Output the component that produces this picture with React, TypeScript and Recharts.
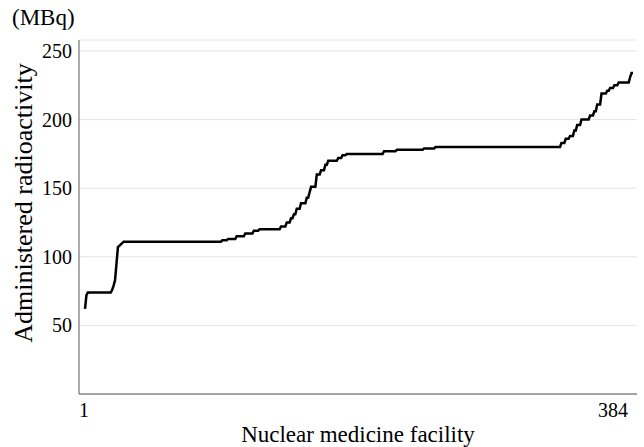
import { LineChart, Line, XAxis, YAxis, CartesianGrid, Label } from "recharts";

// 施設ごとの投与量（昇順）: 値と、その値が続く施設数
const levels = [
  62, 72, 74, 76, 79, 83, 95, 107, 108, 109, 110, 111, 112, 113, 115, 117,
  119, 120, 122, 125, 128, 131, 135, 139, 143, 147, 151, 160, 163, 167, 170,
  172, 174, 175, 177, 178, 179, 180, 183, 186, 188, 192, 196, 200, 203, 206,
  211, 219, 221, 223, 225, 227, 231, 234,
];
const counts = [
  1, 1, 17, 1, 1, 1, 1, 1, 1, 1, 1, 69, 4, 6, 6, 6,
  4, 15, 4, 3, 2, 2, 3, 4, 2, 1, 4, 3, 3, 2, 7,
  3, 3, 26, 9, 19, 8, 88, 3, 3, 3, 2, 3, 6, 3, 2,
  3, 4, 2, 3, 3, 8, 1, 2,
];
const yTicks = [50, 100, 150, 200, 250];
const xTicks = [1, 384];

const data: { facility: number; mbq: number }[] = [];
levels.forEach((v, k) => {
  for (let n = 0; n < counts[k]; n++) {
    data.push({ facility: data.length + 1, mbq: v });
  }
});

const FONT = "'Liberation Serif', serif";

function XTick(props: any) {
  const { x, y, payload } = props;
  const last = payload.value === 384;
  return (
    <text
      x={last ? x - 5 : x - 1}
      y={y + 15}
      textAnchor={last ? "end" : "middle"}
      style={{ fontFamily: FONT, fontSize: 20, fill: "#000" }}
    >
      {payload.value}
    </text>
  );
}

function YTick(props: any) {
  const { x, y, payload } = props;
  return (
    <text
      x={x + 1}
      y={y + 7}
      textAnchor="end"
      style={{ fontFamily: FONT, fontSize: 20, fill: "#000" }}
    >
      {payload.value}
    </text>
  );
}

export default function App() {
  return (
    <div style={{ position: "absolute", left: 0, top: 0, width: 644, height: 447, background: "#fff" }}>
      <div
        style={{
          position: "absolute",
          left: 12,
          top: 5,
          fontFamily: FONT,
          fontSize: 23,
          color: "#000",
        }}
      >
        (MBq)
      </div>
      <LineChart width={644} height={447} data={data} margin={{ top: 40, right: 7, bottom: 0, left: 0 }}>
        <CartesianGrid horizontal vertical={false} stroke="#e4e4e4" />
        <XAxis
          dataKey="facility"
          type="number"
          domain={[-3.2, 386.8]}
          ticks={xTicks}
          tickLine={false}
          axisLine={{ stroke: "#595959" }}
          tick={<XTick />}
          height={53}
          interval={0}
        >
          <Label
            value="Nuclear medicine facility"
            position="center"
            dy={13}
            style={{ fontFamily: FONT, fontSize: 23, fill: "#000" }}
          />
        </XAxis>
        <YAxis
          type="number"
          domain={[0, 258]}
          ticks={yTicks}
          tickLine={false}
          axisLine={{ stroke: "#595959" }}
          width={79}
          tick={<YTick />}
        >
          <Label
            value="Administered radioactivity"
            angle={-90}
            position="center"
            dx={-17}
            dy={-14}
            style={{ fontFamily: FONT, fontSize: 26, fill: "#000", textAnchor: "middle" }}
          />
        </YAxis>
        <Line
          type="linear"
          dataKey="mbq"
          stroke="#000"
          strokeWidth={2.5}
          dot={false}
          isAnimationActive={false}
        />
      </LineChart>
    </div>
  );
}
